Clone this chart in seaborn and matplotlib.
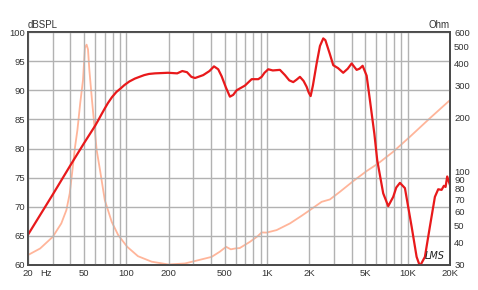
import matplotlib
matplotlib.use("Agg")
import matplotlib.pyplot as plt
from matplotlib.ticker import NullLocator
import seaborn as sns
import pandas as pd

# ---- data ----
spl_freq = [20, 30, 40, 50, 60, 63, 66, 70, 74, 79,
            85, 91, 97, 105, 115, 124, 134, 145, 160, 198,
            230, 250, 270, 290, 308, 352, 390, 420, 450, 476,
            510, 545, 575, 609, 697, 778, 867, 916, 960, 1021,
            1100, 1236, 1342, 1440, 1537, 1620, 1715, 1820, 1913, 1980,
            2043, 2120, 2254, 2380, 2512, 2600, 2800, 2958, 3200, 3482,
            3750, 3997, 4338, 4550, 4785, 5110, 5392, 5800, 6076, 6702,
            7276, 7896, 8300, 8811, 9562, 10670, 11578, 12222, 13264, 14392,
            15620, 16488, 17432, 18098, 18600, 19106, 20000]
spl_db = [65.2, 72.1, 77.1, 80.9, 83.9, 84.8, 85.7, 86.8, 87.8, 88.8,
          89.7, 90.3, 90.9, 91.5, 92.0, 92.3, 92.6, 92.8, 92.9, 93.0,
          92.9, 93.3, 93.1, 92.3, 92.1, 92.6, 93.3, 94.1, 93.6, 92.4,
          90.5, 88.9, 89.2, 90.0, 90.8, 91.9, 91.9, 92.3, 93.0, 93.6,
          93.4, 93.5, 92.6, 91.7, 91.4, 91.8, 92.3, 91.6, 90.6, 89.6,
          89.0, 90.8, 94.6, 97.6, 98.9, 98.6, 96.2, 94.3, 93.8, 93.0,
          93.7, 94.6, 93.5, 93.7, 94.2, 92.5, 88.3, 82.5, 78.0, 72.3,
          70.1, 71.7, 73.3, 74.1, 73.2, 66.6, 61.4, 59.8, 61.4, 66.6,
          71.7, 73.0, 72.9, 73.6, 73.4, 75.2, 73.7]

imp_freq = [20, 24.4, 30, 34.5, 37.5, 39.6, 41.4, 43.2, 44.9, 47,
            49.2, 50.8, 52.2, 53.4, 54.6, 57, 59.7, 61.5, 65, 70.3,
            78.7, 87.5, 101.5, 121, 151.5, 199.5, 261, 324, 404, 462,
            512, 553, 594, 640, 756, 860, 916, 993, 1171, 1456,
            1764, 2020, 2447, 2802, 3300, 4102, 5110, 6178, 7896, 10376,
            14392, 20000]
imp_ohm = [34.1, 37.1, 43.1, 51.2, 60.8, 75.3, 101.7, 137, 170, 240,
           323, 490, 510, 480, 368, 250, 170, 132, 101.7, 69.1,
           52.3, 44.1, 37.9, 33.6, 31.3, 30.2, 30.6, 31.9, 33.3, 35.6,
           37.9, 36.7, 37.1, 37.3, 40.4, 43.5, 45.6, 45.5, 47.0, 51.2,
           56.5, 60.8, 67.6, 69.7, 76.9, 88.2, 100.4, 110.8, 128.7, 156,
           198, 250]

x_major = [20, 50, 100, 200, 500, 1000, 2000, 5000, 10000, 20000]
x_major_labels = ["20", "50", "100", "200", "500", "1K", "2K", "5K", "10K", "20K"]
x_minor = [30, 40, 60, 70, 80, 90, 300, 400, 600, 700, 800, 900,
           3000, 4000, 6000, 7000, 8000, 9000]
db_ticks = [60, 65, 70, 75, 80, 85, 90, 95, 100]
ohm_ticks = [30, 40, 50, 60, 70, 80, 90, 100, 200, 300, 400, 500, 600]

spl_df = pd.DataFrame({"freq": spl_freq, "db": spl_db})
imp_df = pd.DataFrame({"freq": imp_freq, "ohm": imp_ohm})

sns.set_theme(style="white")
plt.rcParams["font.family"] = ["Liberation Sans", "DejaVu Sans"]

W, H = 478, 290
fig = plt.figure(figsize=(W / 100, H / 100), dpi=100)
L, R, T, B = 28, 450, 32, 265
ax = fig.add_axes([L / W, 1 - B / H, (R - L) / W, (B - T) / H])
ax2 = ax.twinx()

grid_c = "#b2b2b2"
txt_c = "#333333"
spl_c = "#e8191b"
imp_c = "#ffb59a"

sns.lineplot(data=imp_df, x="freq", y="ohm", ax=ax2, color=imp_c,
             linewidth=1.3, estimator=None)
sns.lineplot(data=spl_df, x="freq", y="db", ax=ax, color=spl_c,
             linewidth=1.6, estimator=None)

ax.set_zorder(ax2.get_zorder() + 1)
ax.patch.set_visible(False)

ax.set_xscale("log")
ax.set_xlim(20, 20000)
ax.set_ylim(60, 100)
ax.set_xticks(x_major, x_major_labels)
ax.set_xticks(x_minor, minor=True)
ax.set_yticks(db_ticks, [str(v) for v in db_ticks])
ax.grid(which="both", axis="x", color=grid_c, linewidth=1.0)
ax.grid(which="major", axis="y", color=grid_c, linewidth=1.0)
ax.tick_params(which="both", length=0, labelsize=6.8, colors=txt_c)
ax.tick_params(axis="y", pad=2)
ax.tick_params(axis="x", pad=3)
ax.set_xlabel("")
ax.set_ylabel("")

ax2.set_yscale("log")
ax2.set_ylim(30, 600)
ax2.set_yticks(ohm_ticks, [str(v) for v in ohm_ticks])
ax2.yaxis.set_minor_locator(NullLocator())
ax2.tick_params(length=0, labelsize=6.8, colors=txt_c, pad=3)
ax2.set_ylabel("")
ax2.grid(False)

for a in (ax, ax2):
    for s in a.spines.values():
        s.set_color("#4a4a4a")
        s.set_linewidth(1.3)

ax.text(27.0, -0.036, "Hz", transform=ax.get_xaxis_transform(),
        ha="center", va="center", fontsize=6.8, color=txt_c)
fig.text(L / W, 1 - 24.5 / H, "dBSPL", ha="left", va="center",
         fontsize=7, color=txt_c)
fig.text(R / W, 1 - 24.5 / H, "Ohm", ha="right", va="center",
         fontsize=7, color=txt_c)
ax.text(15600, 61.6, "LMS", ha="center", va="center", fontsize=7,
        fontstyle="italic", color="#222222", family="DejaVu Sans")

fig.savefig("out.png", dpi=100)
